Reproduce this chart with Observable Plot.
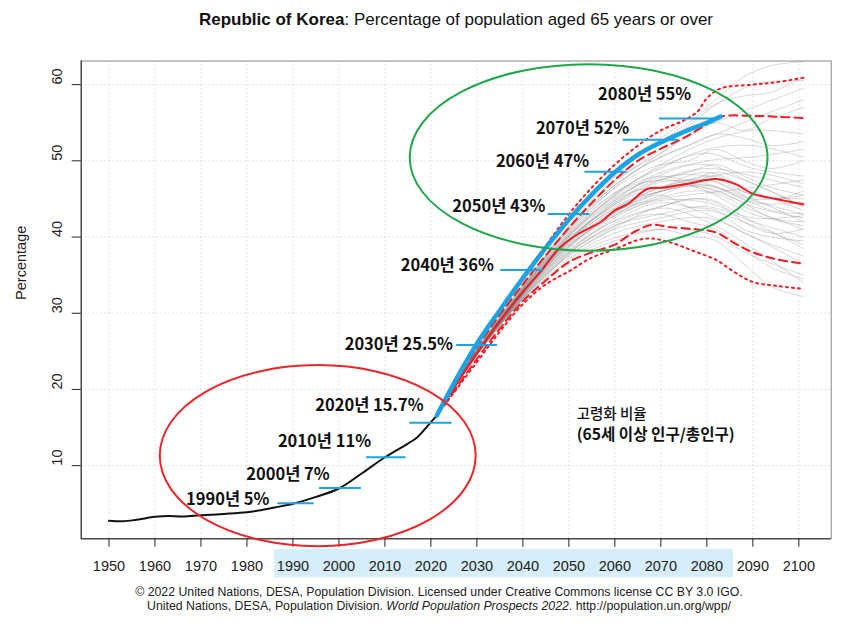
<!DOCTYPE html>
<html>
<head>
<meta charset="utf-8">
<script src="https://cdn.jsdelivr.net/npm/d3@7"></script>
<script src="https://cdn.jsdelivr.net/npm/@observablehq/plot@0.6"></script>
<style>
  body { margin: 0; background: #fff; }
  #wrap { position: relative; width: 850px; height: 624px; overflow: hidden; background: #fff; }
  #wrap svg { position: absolute; left: 0; top: 0; }
  .title { position: absolute; left: 0; width: 912px; top: 10px; text-align: center;
    font-family: "Liberation Sans", Arial, sans-serif; font-size: 17px; color: #111; line-height: 20px; }
  .cap { position: absolute; left: 0; width: 878px; text-align: center;
    font-family: "Liberation Sans", Arial, sans-serif; font-size: 12.3px; color: #222; line-height: 14px; }
</style>
</head>
<body>
<div id="wrap">
  <div class="title"><b>Republic of Korea</b>: Percentage of population aged 65 years or over</div>
  <div class="cap" style="top:585px">© 2022 United Nations, DESA, Population Division. Licensed under Creative Commons license CC BY 3.0 IGO.</div>
  <div class="cap" style="top:599px">United Nations, DESA, Population Division. <i>World Population Prospects 2022</i>. http://population.un.org/wpp/</div>
</div>
<script>
// ---- tick labels ----
const xTicks = [1950, 1960, 1970, 1980, 1990, 2000, 2010, 2020, 2030, 2040, 2050, 2060, 2070, 2080, 2090, 2100];
const yTicks = [10, 20, 30, 40, 50, 60];

// ---- estimates (black) ----
const estYears  = [1950, 1953, 1956, 1960, 1963, 1966, 1970, 1975, 1980, 1983, 1986, 1990, 1995, 2000, 2005, 2010, 2015, 2017, 2020, 2021.3];
const estValues = [2.78, 2.70, 2.90, 3.28, 3.40, 3.32, 3.48, 3.66, 3.88, 4.15, 4.50, 5.00, 5.90, 7.00, 9.00, 11.10, 12.90, 13.70, 15.70, 16.60];

// ---- projections ----
const medianYears  = [2021.3, 2025, 2030, 2035, 2040, 2044, 2048, 2052, 2057, 2060, 2063, 2067, 2071, 2076, 2082, 2086, 2090, 2095, 2101];
const medianValues = [16.6, 20.2, 24.7, 29.0, 32.8, 35.6, 38.6, 40.4, 42.0, 43.5, 44.4, 46.3, 46.5, 47.0, 47.6, 47.0, 45.7, 45.0, 44.3];

const upper80Years  = [2021.3, 2030, 2040, 2045, 2050, 2055, 2060, 2065, 2070, 2075, 2080, 2083, 2090, 2095, 2101];
const upper80Values = [16.6, 25.5, 33.8, 37.6, 41.2, 44.5, 47.5, 50.0, 51.6, 53.0, 54.8, 55.8, 55.9, 55.8, 55.6];
const lower80Years  = [2021.3, 2030, 2035, 2040, 2045, 2050, 2055, 2060, 2064, 2068, 2072, 2078, 2082, 2086, 2090, 2095, 2101];
const lower80Values = [16.6, 24.0, 28.0, 31.6, 34.3, 36.7, 38.0, 39.0, 40.6, 41.6, 41.3, 41.0, 40.6, 39.2, 38.0, 37.1, 36.5];

const upper95Years  = [2021.3, 2030, 2040, 2045, 2050, 2055, 2060, 2065, 2070, 2075, 2078, 2080, 2083, 2090, 2095, 2101];
const upper95Values = [16.6, 25.8, 34.8, 38.9, 43.0, 46.5, 49.5, 52.0, 54.0, 55.3, 56.5, 58.2, 59.5, 60.0, 60.3, 60.9];
const lower95Years  = [2021.3, 2030, 2035, 2040, 2045, 2050, 2055, 2060, 2065, 2068, 2072, 2077, 2082, 2086, 2090, 2095, 2101];
const lower95Values = [16.6, 23.6, 27.6, 31.2, 33.8, 35.5, 37.3, 38.4, 39.6, 39.8, 39.3, 38.2, 37.0, 35.4, 34.1, 33.6, 33.2];

// ---- highlighted trajectory (blue) ----
const blueYears  = [2021.3, 2025, 2030, 2035, 2040, 2045, 2050, 2055, 2060, 2065, 2070, 2075, 2080, 2083];
const blueValues = [16.6, 20.8, 26.0, 30.4, 34.6, 38.6, 42.3, 45.6, 48.5, 50.8, 52.4, 53.8, 55.0, 55.8];

// ---- sample trajectories (grey) ----
const grayYears = [2021.3, 2030, 2040, 2050, 2060, 2070, 2080, 2090, 2101];
const grayValues = [
  [16.6, 25.3, 33.6, 41.0, 46.8, 50.5, 53.0, 55.5, 58.0],
  [16.6, 25.0, 33.0, 39.5, 44.5, 47.5, 49.0, 48.0, 46.5],
  [16.6, 24.6, 32.0, 37.5, 41.0, 42.5, 43.5, 41.5, 39.0],
  [16.6, 24.9, 33.2, 40.5, 45.8, 49.0, 51.5, 52.0, 50.5],
  [16.6, 24.5, 31.8, 36.8, 39.5, 41.0, 40.5, 37.5, 35.0],
  [16.6, 24.8, 32.6, 39.0, 43.5, 46.5, 47.5, 45.0, 42.0],
  [16.6, 25.1, 33.4, 40.2, 45.0, 48.2, 50.0, 50.5, 51.5],
  [16.6, 24.7, 32.3, 38.2, 42.5, 45.2, 46.0, 43.5, 41.0],
  [16.6, 24.9, 32.9, 39.6, 44.8, 48.5, 49.5, 47.0, 44.0],
  [16.6, 24.6, 32.1, 37.8, 41.8, 44.0, 45.0, 42.0, 38.5],
  [16.6, 25.2, 33.5, 40.8, 46.5, 51.0, 54.5, 57.0, 59.5],
  [16.6, 24.8, 32.5, 38.8, 43.0, 45.5, 47.8, 48.5, 47.0],
  [16.6, 24.5, 31.9, 37.2, 40.5, 42.0, 42.5, 40.0, 36.5],
  [16.6, 24.9, 33.0, 39.8, 44.0, 46.5, 48.5, 46.0, 43.5],
  [16.6, 25.0, 33.1, 40.0, 45.2, 47.8, 48.0, 45.5, 45.0],
  [16.6, 24.7, 32.4, 38.5, 42.8, 44.8, 44.5, 42.5, 42.8],
  [16.6, 24.8, 32.7, 39.3, 43.8, 46.0, 46.8, 44.8, 43.0],
  [16.6, 25.0, 33.2, 40.3, 45.5, 49.5, 52.5, 54.0, 53.5],
  [16.6, 24.6, 32.2, 38.0, 41.5, 43.0, 44.0, 42.0, 40.0],
  [16.6, 24.7, 32.5, 38.7, 43.2, 46.0, 46.5, 44.0, 42.5],
  [16.6, 24.9, 32.8, 39.4, 44.3, 47.2, 47.0, 44.5, 44.5],
  [16.6, 24.6, 32.0, 37.6, 41.2, 43.8, 42.0, 38.5, 34.0],
  [16.6, 25.1, 33.3, 40.1, 45.6, 49.2, 51.0, 49.0, 48.0],
  [16.6, 24.8, 32.6, 39.1, 43.4, 45.0, 45.8, 46.5, 47.5],
  [16.6, 24.7, 32.3, 38.3, 42.2, 44.5, 43.0, 40.0, 37.5],
  [16.6, 25.2, 33.6, 41.2, 47.2, 51.5, 56.5, 60.0, 60.5],
  [16.6, 24.8, 32.6, 38.9, 42.8, 46.0, 47.5, 45.0, 45.5],
  [16.6, 24.9, 32.8, 39.5, 44.5, 47.5, 46.0, 43.0, 41.5]
];
const grayYears2 = [2021.3, 2030, 2040, 2046, 2052, 2058, 2064, 2070, 2076, 2082, 2088, 2094, 2101];
const grayValues2 = [
  [16.6, 25.1, 33.4, 38.5, 43.5, 47.0, 50.5, 53.0, 55.5, 58.0, 61.0, 62.5, 63.0],
  [16.6, 25.0, 33.2, 38.0, 42.8, 46.5, 49.0, 51.0, 53.5, 55.0, 54.0, 55.5, 57.0],
  [16.6, 24.8, 32.6, 37.0, 41.0, 44.0, 46.0, 46.5, 47.5, 48.0, 46.0, 45.0, 46.0],
  [16.6, 24.7, 32.3, 36.2, 39.8, 42.5, 44.5, 45.5, 44.0, 43.5, 41.0, 40.0, 39.5],
  [16.6, 24.6, 32.0, 35.5, 38.8, 40.8, 42.5, 43.0, 42.0, 41.0, 38.5, 36.0, 34.5],
  [16.6, 24.5, 31.7, 35.0, 37.8, 39.5, 40.5, 41.0, 40.2, 39.5, 36.5, 33.5, 32.2],
  [16.6, 24.9, 33.0, 37.5, 42.0, 45.5, 48.0, 49.5, 50.0, 51.5, 50.0, 49.0, 50.0],
  [16.6, 24.8, 32.8, 37.0, 41.5, 44.5, 46.8, 47.5, 48.5, 49.5, 48.0, 46.5, 45.5],
  [16.6, 24.7, 32.4, 36.6, 40.5, 43.0, 45.0, 46.0, 46.8, 46.0, 44.5, 42.5, 42.0],
  [16.6, 25.0, 33.1, 37.8, 42.3, 45.8, 48.5, 50.5, 52.0, 53.5, 53.0, 52.0, 52.5],
  [16.6, 24.8, 32.5, 36.8, 40.8, 43.5, 45.5, 46.5, 47.0, 46.5, 45.0, 43.5, 43.0],
  [16.6, 24.6, 32.1, 35.8, 39.0, 41.5, 43.0, 44.0, 45.0, 44.5, 42.0, 40.5, 41.0],
  [16.6, 25.1, 33.3, 38.2, 43.0, 46.8, 50.0, 52.5, 55.0, 57.5, 58.5, 59.0, 61.0],
  [16.6, 24.9, 32.9, 37.3, 41.7, 45.0, 47.0, 48.0, 47.5, 48.5, 47.5, 46.0, 44.0]
];

// ---- annotations ----
const noteTexts  = ["1990년 5%", "2000년 7%", "2010년 11%", "2020년 15.7%", "2030년 25.5%", "2040년 36%", "2050년 43%", "2060년 47%", "2070년 52%", "2080년 55%"];
const noteLabelX = [1984.9, 1998.0, 2007.0, 2018.4, 2024.8, 2033.7, 2044.9, 2054.4, 2063.1, 2076.6];
const noteLabelY = [5.54, 8.82, 13.15, 17.87, 25.88, 36.18, 43.99, 49.9, 54.16, 58.69];
const markValues = [5.05, 7.07, 11.09, 15.64, 25.84, 35.68, 43.03, 48.58, 52.78, 55.54];
const markStart  = [1986.7, 1995.8, 2006.0, 2015.4, 2025.6, 2035.2, 2045.5, 2053.5, 2061.8, 2069.7];
const markEnd    = [1994.6, 2004.9, 2014.6, 2024.6, 2034.5, 2044.4, 2054.6, 2062.7, 2073.8, 2082.8];

const legendLines = ["고령화 비율", "(65세 이상 인구/총인구)"];
const legendPos = {x: 2051.7, y1: 16.69, y2: 14.07};

// ellipses: [centerYear, centerValue, radiusYears, radiusValue]
const redEllipse   = [1995.5, 11.25, 34.35, 11.88];
const greenEllipse = [2054.4, 50.38, 38.9, 12.24];
const highlightRange = [1986.0, 2085.8];

// ---- build tables ----
const zip = (xs, ys, extra = {}) => xs.map((x, i) => ({x, y: ys[i], ...extra}));
const est = zip(estYears, estValues);
const median = zip(medianYears, medianValues);
const u80 = zip(upper80Years, upper80Values);
const l80 = zip(lower80Years, lower80Values);
const u95 = zip(upper95Years, upper95Values);
const l95 = zip(lower95Years, lower95Values);
const blue = zip(blueYears, blueValues);
const gray = [
  ...grayValues.flatMap((vals, k) => grayYears.map((x, i) => ({x, y: vals[i], k: "a" + k}))),
  ...grayValues2.flatMap((vals, k) => grayYears2.map((x, i) => ({x, y: vals[i], k: "b" + k})))
];
const notes = noteTexts.map((t, i) => ({t, lx: noteLabelX[i], ly: noteLabelY[i], v: markValues[i], x1: markStart[i], x2: markEnd[i]}));

const RED = "#ee1c25";
const BLUE = "#1ca3e3";
const xDom = [1943.96, 2107.04];
const yDom = [0.4, 63.1];

const plot = Plot.plot({
  width: 850,
  height: 624,
  marginTop: 60.5,
  marginBottom: 85.7,
  marginLeft: 80.7,
  marginRight: 19.3,
  x: {domain: xDom},
  y: {domain: yDom},
  style: {fontFamily: "'Liberation Sans', Arial, sans-serif", fontSize: "14.5px", color: "#222", background: "transparent"},
  marks: [
    Plot.gridX(xTicks, {stroke: "#c8c8c8", strokeOpacity: 1, strokeDasharray: "1,3"}),
    Plot.gridY(yTicks, {stroke: "#c8c8c8", strokeOpacity: 1, strokeDasharray: "1,3"}),
    Plot.frame({stroke: "#888"}),
    Plot.ruleX([xDom[0]], {stroke: "#222"}),
    Plot.ruleY([yDom[0]], {stroke: "#222"}),
    Plot.axisX({ticks: xTicks, tickSize: 8.5, tickPadding: 13, tickFormat: d => String(d), label: null, fontSize: 14.5}),
    Plot.axisY({ticks: yTicks, tickSize: 9, tickFormat: () => "", label: null}),
    Plot.text(yTicks, {y: d => d, text: d => String(d), frameAnchor: "left", dx: -24, rotate: -90, fontSize: 14.5, fill: "#222"}),
    Plot.text(["Percentage"], {frameAnchor: "left", dx: -60, rotate: -90, fontSize: 14.5, fill: "#222"}),
    // grey sample trajectories
    Plot.line(gray, {x: "x", y: "y", z: "k", curve: "catmull-rom", stroke: "#707070", strokeOpacity: 0.3, strokeWidth: 0.9}),
    // interval bounds
    Plot.line(u95, {x: "x", y: "y", curve: "catmull-rom", stroke: RED, strokeWidth: 2, strokeDasharray: "2,4"}),
    Plot.line(l95, {x: "x", y: "y", curve: "catmull-rom", stroke: RED, strokeWidth: 2, strokeDasharray: "2,4"}),
    Plot.line(u80, {x: "x", y: "y", curve: "catmull-rom", stroke: RED, strokeWidth: 2, strokeDasharray: "8,5"}),
    Plot.line(l80, {x: "x", y: "y", curve: "catmull-rom", stroke: RED, strokeWidth: 2, strokeDasharray: "8,5"}),
    Plot.line(median, {x: "x", y: "y", curve: "catmull-rom", stroke: RED, strokeWidth: 2}),
    // estimates
    Plot.line(est, {x: "x", y: "y", curve: "catmull-rom", stroke: "#111", strokeWidth: 2}),
    // blue highlighted path
    Plot.line(blue, {x: "x", y: "y", curve: "catmull-rom", stroke: BLUE, strokeWidth: 4.5, strokeLinecap: "round"}),
    // annotation marks
    Plot.ruleY(notes, {y: "v", x1: "x1", x2: "x2", stroke: BLUE, strokeWidth: 2}),
    Plot.text(notes, {x: "lx", y: "ly", text: "t", textAnchor: "end", lineAnchor: "middle", fontSize: 16.5, fontWeight: "bold", fontFamily: "'Noto Sans CJK KR', sans-serif", fill: "#111"}),
    Plot.text([legendLines[0]], {x: legendPos.x, y: legendPos.y1, textAnchor: "start", lineAnchor: "middle", fontSize: 14.5, fontWeight: 500, fontFamily: "'Noto Sans CJK KR', sans-serif", fill: "#111"}),
    Plot.text([legendLines[1]], {x: legendPos.x, y: legendPos.y2, textAnchor: "start", lineAnchor: "middle", fontSize: 15.6, fontWeight: "bold", fontFamily: "'Noto Sans CJK KR', sans-serif", fill: "#111"})
  ]
});

// annotation ellipses and highlight band, positioned through the plot's scales
const sx = plot.scale("x"), sy = plot.scale("y");
const NS = "http://www.w3.org/2000/svg";
function addEllipse([cx, cy, rx, ry], color) {
  const e = document.createElementNS(NS, "ellipse");
  const px = sx.apply(cx), py = sy.apply(cy);
  e.setAttribute("cx", px);
  e.setAttribute("cy", py);
  e.setAttribute("rx", sx.apply(cx + rx) - px);
  e.setAttribute("ry", py - sy.apply(cy + ry));
  e.setAttribute("fill", "none");
  e.setAttribute("stroke", color);
  e.setAttribute("stroke-width", 2);
  plot.appendChild(e);
}
addEllipse(redEllipse, "#e8262b");
addEllipse(greenEllipse, "#1fa64a");

const band = document.createElementNS(NS, "rect");
const bx1 = sx.apply(highlightRange[0]), bx2 = sx.apply(highlightRange[1]);
band.setAttribute("x", bx1);
band.setAttribute("width", bx2 - bx1);
band.setAttribute("y", 549);
band.setAttribute("height", 28.3);
band.setAttribute("fill", "#d6eef9");
plot.insertBefore(band, plot.firstChild);

document.getElementById("wrap").insertBefore(plot, document.getElementById("wrap").firstChild);
</script>
</body>
</html>
